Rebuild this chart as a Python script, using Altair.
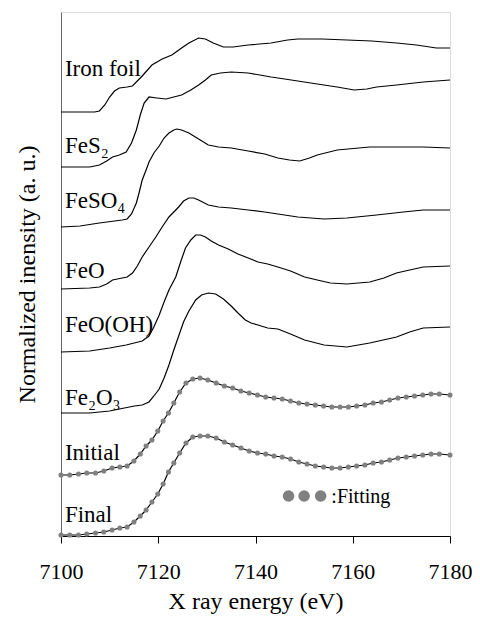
import altair as alt
import pandas as pd

FONT = "Liberation Serif"

# ---------------- data (X ray energy in eV, stacked normalized intensity) ----------------
iron_x = [7100.0, 7106.9, 7107.9, 7109.0, 7110.0, 7111.0, 7112.0, 7113.6, 7114.7, 7116.7, 7118.7,
          7120.8, 7122.8, 7124.8, 7126.3, 7128.3, 7129.7, 7131.3, 7133.4, 7135.4, 7138.5, 7143.2,
          7146.6, 7148.7, 7153.7, 7158.8, 7163.9, 7169.0, 7173.1, 7177.2, 7180.0]
iron_y = [4.24, 4.24, 4.25, 4.31, 4.39, 4.45, 4.48, 4.49, 4.50, 4.60, 4.71,
          4.77, 4.81, 4.88, 4.93, 4.98, 4.97, 4.93, 4.89, 4.89, 4.91, 4.93,
          4.96, 4.97, 4.97, 4.96, 4.95, 4.93, 4.91, 4.88, 4.88]

fes2_x = [7100.0, 7105.9, 7107.9, 7109.4, 7110.6, 7112.0, 7113.4, 7114.5, 7115.5, 7116.3, 7117.1,
          7118.1, 7119.7, 7121.6, 7123.2, 7124.8, 7126.7, 7128.3, 7129.7, 7130.9, 7132.8, 7135.0,
          7138.5, 7140.9, 7143.2, 7146.0, 7148.7, 7152.7, 7156.8, 7160.3, 7162.9, 7164.9, 7169.0,
          7174.5, 7180.0]
fes2_y = [3.69, 3.69, 3.71, 3.75, 3.79, 3.81, 3.84, 3.93, 4.06, 4.21, 4.33,
          4.39, 4.38, 4.37, 4.39, 4.41, 4.46, 4.51, 4.56, 4.61, 4.63, 4.64,
          4.63, 4.61, 4.59, 4.57, 4.55, 4.52, 4.49, 4.46, 4.47, 4.49, 4.51,
          4.54, 4.56]

feso4_x = [7100.0, 7103.9, 7107.9, 7111.0, 7112.6, 7113.6, 7114.5, 7115.5, 7116.1, 7116.7, 7117.5,
           7118.1, 7119.1, 7120.2, 7121.2, 7122.2, 7123.2, 7123.8, 7124.8, 7126.3, 7128.3, 7130.3,
           7132.4, 7135.0, 7138.5, 7141.9, 7144.6, 7147.0, 7149.1, 7151.1, 7152.7, 7156.8, 7163.5,
           7169.0, 7174.5, 7180.0]
feso4_y = [3.09, 3.10, 3.13, 3.15, 3.16, 3.17, 3.22, 3.33, 3.44, 3.56, 3.66,
           3.74, 3.83, 3.90, 3.98, 4.03, 4.06, 4.07, 4.06, 4.03, 3.97, 3.91,
           3.89, 3.88, 3.85, 3.82, 3.78, 3.76, 3.75, 3.78, 3.81, 3.86, 3.89,
           3.89, 3.89, 3.88]

feo_x = [7100.0, 7105.9, 7107.9, 7109.4, 7110.6, 7111.6, 7112.6, 7113.6, 7114.7, 7115.7, 7116.7,
         7118.1, 7119.5, 7120.8, 7122.2, 7123.2, 7124.2, 7125.2, 7126.3, 7127.3, 7128.3, 7130.3,
         7132.4, 7135.0, 7138.5, 7141.9, 7144.6, 7148.7, 7154.1, 7158.8, 7164.9, 7170.4, 7174.5,
         7180.0]
feo_y = [2.47, 2.48, 2.49, 2.52, 2.56, 2.57, 2.58, 2.59, 2.63, 2.70, 2.79,
         2.89, 2.99, 3.09, 3.19, 3.24, 3.29, 3.35, 3.38, 3.38, 3.36, 3.31,
         3.29, 3.28, 3.26, 3.24, 3.22, 3.19, 3.17, 3.18, 3.21, 3.24, 3.26,
         3.26]

feooh_x = [7100.0, 7105.9, 7110.0, 7113.4, 7116.7, 7118.1, 7119.1, 7120.2, 7121.2, 7122.2, 7123.6,
           7124.6, 7125.6, 7126.7, 7127.7, 7128.7, 7129.7, 7130.9, 7132.4, 7134.4, 7136.4, 7138.5,
           7140.5, 7142.5, 7144.6, 7147.2, 7150.1, 7152.7, 7155.4, 7158.8, 7163.5, 7166.4, 7169.0,
           7171.7, 7174.5, 7180.0]
feooh_y = [1.84, 1.85, 1.88, 1.91, 1.95, 2.00, 2.09, 2.21, 2.34, 2.46, 2.59,
           2.74, 2.88, 2.96, 3.01, 3.01, 2.99, 2.95, 2.91, 2.87, 2.82, 2.78,
           2.74, 2.72, 2.69, 2.65, 2.59, 2.56, 2.53, 2.52, 2.54, 2.58, 2.63,
           2.66, 2.69, 2.70]

fe2o3_x = [7100.0, 7105.9, 7110.0, 7112.0, 7115.1, 7116.7, 7118.1, 7119.1, 7120.2, 7121.2, 7122.2,
           7123.2, 7124.2, 7125.2, 7126.3, 7127.7, 7128.9, 7130.3, 7131.8, 7133.4, 7135.0, 7136.4,
           7137.9, 7139.1, 7140.5, 7142.5, 7144.6, 7147.2, 7150.1, 7154.1, 7158.8, 7163.5, 7169.0,
           7171.7, 7174.5, 7180.0]
fe2o3_y = [1.23, 1.23, 1.25, 1.27, 1.30, 1.31, 1.34, 1.40, 1.47, 1.58, 1.71,
           1.86, 2.00, 2.14, 2.25, 2.36, 2.41, 2.43, 2.42, 2.37, 2.30, 2.23,
           2.16, 2.13, 2.11, 2.08, 2.07, 2.02, 1.96, 1.91, 1.89, 1.93, 1.99,
           2.04, 2.08, 2.09]

# measured sample spectra and their fits share one energy grid
fit_x = [7100.0, 7101.8, 7103.6, 7105.3, 7107.1, 7108.8, 7110.5, 7112.1, 7113.6, 7115.0, 7116.3,
         7117.5, 7118.7, 7119.9, 7121.0, 7122.1, 7123.2, 7124.4, 7125.7, 7127.1, 7128.6, 7130.2,
         7131.9, 7133.6, 7135.3, 7137.0, 7138.7, 7140.4, 7142.1, 7143.8, 7145.5, 7147.2, 7148.9,
         7150.6, 7152.3, 7154.0, 7155.7, 7157.4, 7159.1, 7160.8, 7162.5, 7164.2, 7165.9, 7167.6,
         7169.3, 7171.0, 7172.7, 7174.4, 7176.1, 7177.8, 7180.0]
initial_y = [0.61, 0.61, 0.62, 0.63, 0.63, 0.65, 0.68, 0.69, 0.70, 0.75, 0.82,
             0.90, 0.96, 1.05, 1.15, 1.23, 1.33, 1.44, 1.53, 1.57, 1.58, 1.56,
             1.53, 1.50, 1.48, 1.45, 1.43, 1.41, 1.39, 1.38, 1.37, 1.35, 1.33,
             1.32, 1.31, 1.30, 1.29, 1.29, 1.29, 1.30, 1.31, 1.33, 1.34, 1.36,
             1.38, 1.39, 1.40, 1.41, 1.42, 1.42, 1.41]
final_y = [0.01, 0.01, 0.01, 0.02, 0.03, 0.04, 0.06, 0.08, 0.09, 0.14, 0.20,
           0.26, 0.34, 0.42, 0.52, 0.64, 0.73, 0.83, 0.93, 0.99, 1.00, 1.00,
           0.98, 0.94, 0.91, 0.88, 0.85, 0.83, 0.82, 0.80, 0.79, 0.77, 0.74,
           0.72, 0.70, 0.69, 0.68, 0.68, 0.69, 0.70, 0.71, 0.73, 0.74, 0.76,
           0.78, 0.79, 0.80, 0.81, 0.82, 0.82, 0.81]

label_names = ["Iron foil", "FeS\u2082", "FeSO\u2084", "FeO", "FeO(OH)", "Fe\u2082O\u2083", "Initial", "Final"]
label_y = [4.60, 3.83, 3.28, 2.58, 2.04, 1.31, 0.76, 0.14]
x_ticks = [7100, 7120, 7140, 7160, 7180]

# ---------------- build tables ----------------
series = [("Iron foil", iron_x, iron_y), ("FeS2", fes2_x, fes2_y), ("FeSO4", feso4_x, feso4_y),
          ("FeO", feo_x, feo_y), ("FeO(OH)", feooh_x, feooh_y), ("Fe2O3", fe2o3_x, fe2o3_y),
          ("Initial", fit_x, initial_y), ("Final", fit_x, final_y)]
rows = []
for name, xs_, ys_ in series:
    for i, (a, b) in enumerate(zip(xs_, ys_)):
        rows.append({"spec": name, "i": i, "E": a, "I": b})
lines_df = pd.DataFrame(rows)

fit_rows = []
for name, ys_ in [("Initial", initial_y), ("Final", final_y)]:
    for a, b in zip(fit_x, ys_):
        fit_rows.append({"spec": name, "E": a, "I": b})
fit_df = pd.DataFrame(fit_rows)

labels_df = pd.DataFrame({"text": label_names, "E": [7100.8] * len(label_names), "I": label_y})
legend_dots = pd.DataFrame({"E": [7146.8, 7150.0, 7153.4], "I": [0.40, 0.40, 0.40]})
legend_text = pd.DataFrame({"text": [":Fitting"], "E": [7155.6], "I": [0.33]})

xs = alt.Scale(domain=[7100, 7180], nice=False, zero=False)
ys = alt.Scale(domain=[0, 5.24], nice=False, zero=False)

x_enc = alt.X("E:Q", scale=xs,
              axis=alt.Axis(values=x_ticks, title="X ray energy (eV)", grid=False, format="d",
                            labelFlush=False, labelOverlap=False,
                            labelFont=FONT, labelFontSize=22, labelColor="black", labelPadding=18,
                            tickColor="black", tickSize=7, tickWidth=1, domainColor="black",
                            titleFont=FONT, titleFontSize=24, titleFontWeight="normal",
                            titleColor="black", titlePadding=7))
y_enc = alt.Y("I:Q", scale=ys,
              axis=alt.Axis(labels=False, ticks=False, grid=False, domainColor="#666666",
                            title="Normalized inensity (a. u.)", titleFont=FONT, titleFontSize=24,
                            titleFontWeight="normal", titleColor="black", titlePadding=22))

lines = alt.Chart(lines_df).mark_line(color="black", strokeWidth=1.2).encode(
    x=x_enc, y=y_enc, detail="spec:N", order="i:Q")

dots = alt.Chart(fit_df).mark_circle(color="#808080", size=26, opacity=1).encode(
    x=alt.X("E:Q", scale=xs), y=alt.Y("I:Q", scale=ys))

labels = alt.Chart(labels_df).mark_text(align="left", baseline="alphabetic", font=FONT,
                                        fontSize=23, color="black").encode(
    x=alt.X("E:Q", scale=xs), y=alt.Y("I:Q", scale=ys), text="text:N")

leg_dots = alt.Chart(legend_dots).mark_circle(color="#808080", size=135, opacity=1).encode(
    x=alt.X("E:Q", scale=xs), y=alt.Y("I:Q", scale=ys))

leg_text = alt.Chart(legend_text).mark_text(align="left", baseline="alphabetic", font=FONT,
                                            fontSize=20, color="black").encode(
    x=alt.X("E:Q", scale=xs), y=alt.Y("I:Q", scale=ys), text="text:N")

chart = alt.layer(lines, dots, labels, leg_dots, leg_text).properties(
    width=389, height=524,
    autosize=alt.AutoSizeParams(type="none"),
    padding={"left": 53, "top": 4, "right": 22, "bottom": 80},
).configure_view(stroke="#666666", strokeWidth=1).configure(background="white")

chart.save("out.html", embed_options={"renderer": "svg", "actions": False})
